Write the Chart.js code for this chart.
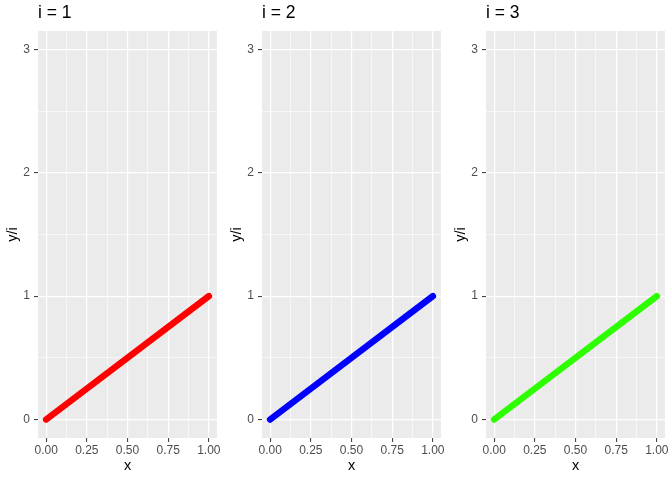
<!DOCTYPE html>
<html>
<head>
<meta charset="utf-8">
<script src="https://cdn.jsdelivr.net/npm/chart.js@4"></script>
<style>
  html, body { margin: 0; padding: 0; background: #fff; }
  #wrap { position: relative; width: 672px; height: 480px; }
  .panel { position: absolute; top: 0; width: 224px; height: 480px; }
</style>
</head>
<body>
<div id="wrap">
  <div class="panel" style="left:0px"><canvas id="c0" width="224" height="480"></canvas></div>
  <div class="panel" style="left:224px"><canvas id="c1" width="224" height="480"></canvas></div>
  <div class="panel" style="left:448px"><canvas id="c2" width="224" height="480"></canvas></div>
</div>
<script>
// data
const panelTitles = ['i = 1', 'i = 2', 'i = 3'];
const xValues = [0, 1];
const seriesY = [[0, 1], [0, 1], [0, 1]]; // y/i per panel
const lineColors = ['#FF0000', '#0000FF', '#2EFF00'];
const xMajor = [0, 0.25, 0.5, 0.75, 1];
const xMinor = [0.125, 0.375, 0.625, 0.875];
const yMajor = [0, 1, 2, 3];
const yMinor = [0.5, 1.5, 2.5];

const FONT = "'Liberation Sans', Arial, Helvetica, sans-serif";

// gray panel background like ggplot
const panelBg = {
  id: 'panelBg',
  beforeDraw(chart) {
    const a = chart.chartArea, ctx = chart.ctx;
    ctx.save();
    ctx.fillStyle = '#EBEBEB';
    ctx.fillRect(a.left, a.top, a.right - a.left, a.bottom - a.top);
    ctx.restore();
  }
};

function tickList(major, minor) {
  return major.concat(minor).sort((a, b) => a - b).map(v => ({ value: v }));
}

function makePanel(i) {
  const ctx = document.getElementById('c' + i).getContext('2d');
  const pts = xValues.map((x, k) => ({ x: x, y: seriesY[i][k] }));

  new Chart(ctx, {
    type: 'line',
    data: {
      datasets: [{
        data: pts,
        borderColor: lineColors[i],
        borderWidth: 6.5,
        borderCapStyle: 'round',
        pointRadius: 0,
        tension: 0
      }]
    },
    options: {
      responsive: false,
      animation: false,
      layout: { padding: { top: 0, left: 0, right: 7, bottom: 0 } },
      plugins: {
        legend: { display: false },
        tooltip: { enabled: false },
        title: {
          display: true,
          text: panelTitles[i],
          align: 'start',
          fullSize: false,
          color: '#000',
          font: { family: FONT, size: 17.5, weight: 'normal' },
          padding: { top: 3, bottom: 7 }
        }
      },
      scales: {
        x: {
          type: 'linear',
          min: -0.05, max: 1.05,
          afterBuildTicks: s => { s.ticks = tickList(xMajor, xMinor); },
          afterFit: s => { s.height = 42; },
          border: { display: false },
          grid: {
            color: '#FFFFFF',
            lineWidth: c => xMajor.includes(c.tick.value) ? 1.2 : 0.6,
            tickColor: c => xMajor.includes(c.tick.value) ? '#333333' : 'rgba(0,0,0,0)',
            tickLength: 4,
            tickWidth: 1
          },
          ticks: {
            autoSkip: false, maxRotation: 0, padding: 1,
            color: '#4D4D4D',
            font: { family: FONT, size: 12 },
            callback: v => xMajor.includes(v) ? v.toFixed(2) : ''
          },
          title: {
            display: true, text: 'x', color: '#000',
            font: { family: FONT, size: 14.5 },
            padding: { top: 0, bottom: 5 }
          }
        },
        y: {
          type: 'linear',
          min: -0.15, max: 3.15,
          afterBuildTicks: s => { s.ticks = tickList(yMajor, yMinor); },
          afterFit: s => { s.width = 38; },
          border: { display: false },
          grid: {
            color: '#FFFFFF',
            lineWidth: c => yMajor.includes(c.tick.value) ? 1.2 : 0.6,
            tickColor: c => yMajor.includes(c.tick.value) ? '#333333' : 'rgba(0,0,0,0)',
            tickLength: 4,
            tickWidth: 1
          },
          ticks: {
            autoSkip: false, padding: 4,
            color: '#4D4D4D',
            font: { family: FONT, size: 12 },
            callback: v => yMajor.includes(v) ? String(v) : ''
          },
          title: {
            display: true, text: 'y/i', color: '#000',
            font: { family: FONT, size: 14.5 },
            padding: { top: 4, bottom: 0 }
          }
        }
      }
    },
    plugins: [panelBg]
  });
}

[0, 1, 2].forEach(makePanel);
</script>
</body>
</html>
